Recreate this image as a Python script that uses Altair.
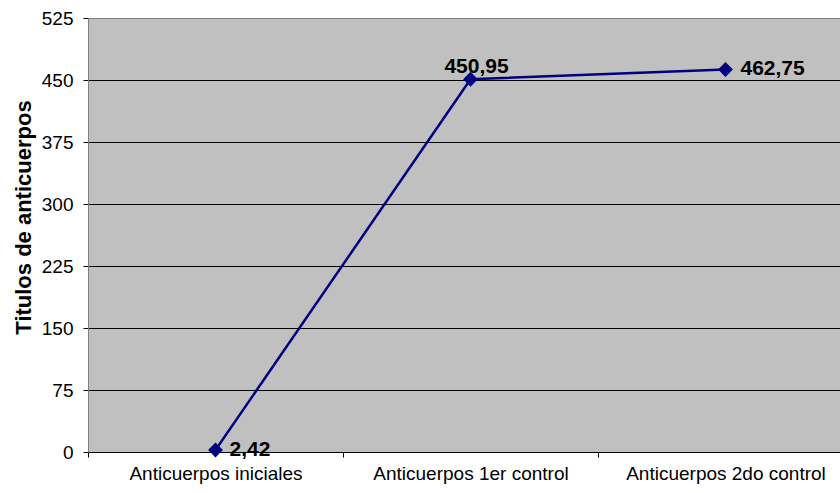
import altair as alt
import pandas as pd

# Antibody titres per sampling stage
categorias = ["Anticuerpos iniciales", "Anticuerpos 1er control", "Anticuerpos 2do control"]
titulos = [2.42, 450.95, 462.75]
ticks_y = [0, 75, 150, 225, 300, 375, 450, 525]

df = pd.DataFrame({"grupo": categorias, "titulo": titulos})

FONT = "Liberation Sans"
NAVY = "#000080"

x_enc = alt.X(
    "grupo:N",
    sort=categorias,
    title=None,
    scale=alt.Scale(type="band", range=[0, 765], paddingInner=0, paddingOuter=0),
    axis=alt.Axis(
        labelAngle=0,
        tickBand="extent",
        domainColor="black",
        tickColor="black",
        tickSize=5,
        labelFont=FONT,
        labelFontSize=19,
        labelColor="black",
        labelPadding=7,
        labelLimit=0,
    ),
)

y_enc = alt.Y(
    "titulo:Q",
    scale=alt.Scale(domain=[0, 525], nice=False, zero=True),
    axis=alt.Axis(
        values=ticks_y,
        title="Titulos de anticuerpos",
        titleFont=FONT,
        titleFontSize=22,
        titleFontWeight="bold",
        titleColor="black",
        titleAngle=-90,
        titleX=-65,
        titleY=199,
        titleAlign="center",
        titleBaseline="middle",
        grid=True,
        gridColor=alt.condition("datum.value == 525", alt.value("#808080"), alt.value("black")),
        gridWidth=1,
        domainColor="#808080",
        tickColor="black",
        tickSize=5,
        labelFont=FONT,
        labelFontSize=19,
        labelColor="black",
        labelPadding=10,
    ),
)

base = alt.Chart(df).encode(x=x_enc, y=y_enc)

linea = base.mark_line(color=NAVY, strokeWidth=2.5)
puntos = base.mark_point(shape="diamond", filled=True, color=NAVY, size=220, opacity=1)

etiqueta = "replace(format(datum.titulo, '.2f'), '.', ',')"


def rotulo(grupo, **kw):
    return (
        base.transform_filter(alt.datum.grupo == grupo)
        .transform_calculate(txt=etiqueta)
        .mark_text(font=FONT, fontSize=21, fontWeight="bold", color="black", **kw)
        .encode(text="txt:N")
    )


rotulos = (
    rotulo(categorias[0], align="left", baseline="middle", dx=14)
    + rotulo(categorias[1], align="center", baseline="bottom", dx=6, dy=-2)
    + rotulo(categorias[2], align="left", baseline="middle", dx=15)
)

chart = (
    alt.layer(linea, puntos, rotulos)
    .properties(
        width=752,
        height=434,
        autosize=alt.AutoSizeParams(type="none"),
        padding={"left": 88, "top": 18, "right": 0, "bottom": 41},
        background="white",
    )
    .configure_view(fill="#C0C0C0", stroke="#808080", strokeWidth=1)
)

chart.save("out.html", embed_options={"renderer": "svg", "actions": False})
